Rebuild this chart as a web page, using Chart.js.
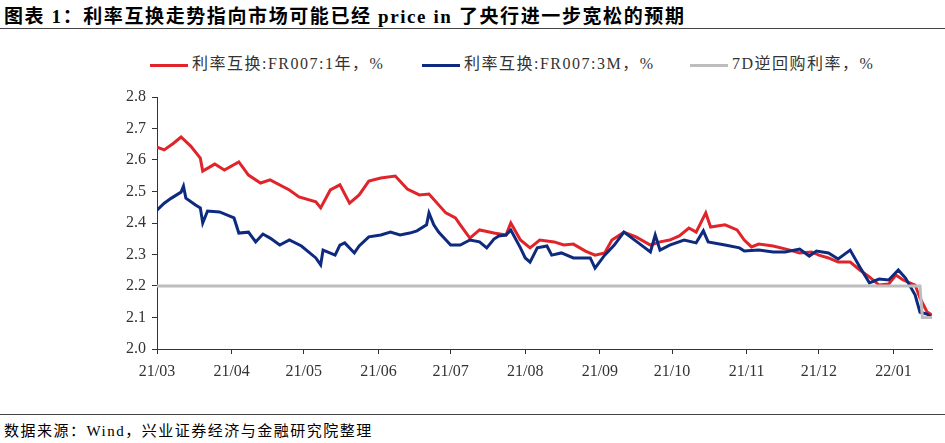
<!DOCTYPE html>
<html><head><meta charset="utf-8">
<script src="https://cdn.jsdelivr.net/npm/chart.js@4"></script>
<style>
body{margin:0;width:945px;height:443px;background:#fff;position:relative;overflow:hidden;font-family:"Liberation Serif","Noto Sans CJK SC",serif}
#title{position:absolute;left:4px;top:1px;font-size:19px;letter-spacing:1.6px;font-weight:bold;color:#000;white-space:nowrap}
#tl{position:absolute;left:0;top:28px;width:945px;border-top:1px solid #444}
#bl{position:absolute;left:0;top:414px;width:945px;border-top:1px solid #444}
#src{position:absolute;left:4px;top:419px;font-size:15px;letter-spacing:1.5px;color:#000;white-space:nowrap}
#leg{position:absolute;top:50px;left:0;width:945px;font-size:16px;letter-spacing:1.5px;color:#333}
.it{position:absolute;white-space:nowrap}
.sw{display:inline-block;width:38px;height:3px;vertical-align:middle;margin-right:4px}
#c{position:absolute;left:100px;top:80px}
</style></head><body>
<div id="title">图表 1：利率互换走势指向市场可能已经 price in 了央行进一步宽松的预期</div>
<div id="tl"></div>
<div id="leg">
<span class="it" style="left:150px"><span class="sw" style="background:#e0242a"></span>利率互换:FR007:1年，%</span>
<span class="it" style="left:422px"><span class="sw" style="background:#0d2a7e"></span>利率互换:FR007:3M，%</span>
<span class="it" style="left:690px"><span class="sw" style="background:#bdbdbd"></span>7D逆回购利率，%</span>
</div>
<canvas id="c" width="845" height="305"></canvas>
<div id="bl"></div>
<div id="src">数据来源：Wind，兴业证券经济与金融研究院整理</div>
<script>
const monthDays=[0,31,61,92,122,153,184,214,245,275,306];
const monthLabels=["21/03","21/04","21/05","21/06","21/07","21/08","21/09","21/10","21/11","21/12","22/01"];
const redDays=[0,3,7,10,14,18,19,24,28,34,38,43,47,55,59,66,68,72,76,80,84,88,93,99,104,109,113,120,124,126,130,134,140,145,147,151,155,159,165,169,173,178,182,186,189,194,199,205,209,213,217,221,224,228,230,236,241,244,247,250,256,263,267,272,275,279,283,288,292,296,300,304,307,310,315,317,320,322];
const redVals=[2.641,2.632,2.654,2.673,2.644,2.606,2.565,2.587,2.568,2.594,2.552,2.527,2.537,2.505,2.483,2.467,2.448,2.505,2.521,2.463,2.489,2.533,2.543,2.549,2.508,2.489,2.492,2.432,2.416,2.394,2.352,2.378,2.368,2.362,2.400,2.346,2.321,2.346,2.340,2.330,2.333,2.311,2.298,2.305,2.346,2.371,2.356,2.330,2.340,2.346,2.359,2.384,2.371,2.432,2.387,2.394,2.378,2.346,2.324,2.333,2.327,2.314,2.305,2.308,2.298,2.289,2.276,2.276,2.251,2.229,2.203,2.206,2.235,2.219,2.203,2.162,2.117,2.108];
const blueDays=[0,3,6,10,11,12,16,18,19,21,26,32,34,38,41,44,47,51,55,60,66,68,69,74,76,78,82,84,88,93,97,101,105,108,112,113,115,117,122,126,130,134,137,140,142,145,147,151,153,155,158,162,164,168,173,180,182,186,190,194,200,205,207,209,213,219,224,227,229,236,242,244,250,256,261,267,271,274,279,283,288,292,296,300,304,308,311,315,317,320,322];
const blueVals=[2.441,2.463,2.479,2.498,2.517,2.479,2.457,2.448,2.400,2.438,2.435,2.416,2.368,2.371,2.340,2.365,2.352,2.330,2.346,2.327,2.289,2.267,2.314,2.298,2.330,2.337,2.305,2.327,2.356,2.362,2.371,2.362,2.368,2.375,2.394,2.432,2.394,2.371,2.330,2.330,2.346,2.340,2.321,2.349,2.359,2.362,2.378,2.321,2.289,2.276,2.321,2.327,2.298,2.305,2.289,2.289,2.257,2.298,2.330,2.371,2.337,2.308,2.362,2.314,2.330,2.346,2.337,2.375,2.340,2.330,2.321,2.311,2.314,2.308,2.308,2.317,2.295,2.311,2.305,2.286,2.314,2.260,2.210,2.222,2.219,2.251,2.225,2.171,2.117,2.111,2.098];
const grayDays=[0,317,318,322];
const grayVals=[2.2,2.2,2.1,2.1];
const yTicks=[2.0,2.1,2.2,2.3,2.4,2.5,2.6,2.7,2.8];
const pts=(d,v)=>d.map((x,i)=>({x:x,y:v[i]}));
const tf={family:"Liberation Serif",size:16};
new Chart(document.getElementById('c'),{
type:'line',
data:{datasets:[
{data:pts(grayDays,grayVals),borderColor:'#bdbdbd',borderWidth:3,pointRadius:0,tension:0},
{data:pts(blueDays,blueVals),borderColor:'#0d2a7e',borderWidth:3,pointRadius:0,tension:0},
{data:pts(redDays,redVals),borderColor:'#e0242a',borderWidth:3,pointRadius:0,tension:0}
]},
options:{responsive:false,animation:false,
layout:{padding:{top:17,right:13,left:0,bottom:0}},
plugins:{legend:{display:false},tooltip:{enabled:false}},
scales:{
x:{type:'linear',min:0,max:322,
 afterBuildTicks:a=>{a.ticks=monthDays.map(v=>({value:v}));},
 afterFit:a=>{a.height=36;},
 ticks:{autoSkip:false,maxRotation:0,padding:8,color:'#333',font:tf,callback:(v)=>monthLabels[monthDays.indexOf(v)]},
 grid:{drawOnChartArea:false,tickLength:5,color:'#333'},border:{color:'#333',width:1}},
y:{min:2.0,max:2.8,
 afterBuildTicks:a=>{a.ticks=yTicks.map(v=>({value:v}));},
 afterFit:a=>{a.width=57;},
 ticks:{color:'#333',font:tf,padding:6,callback:v=>v.toFixed(1)},
 grid:{drawOnChartArea:false,tickLength:5,color:'#333'},border:{color:'#333',width:1}}
}}});
</script>
</body></html>
